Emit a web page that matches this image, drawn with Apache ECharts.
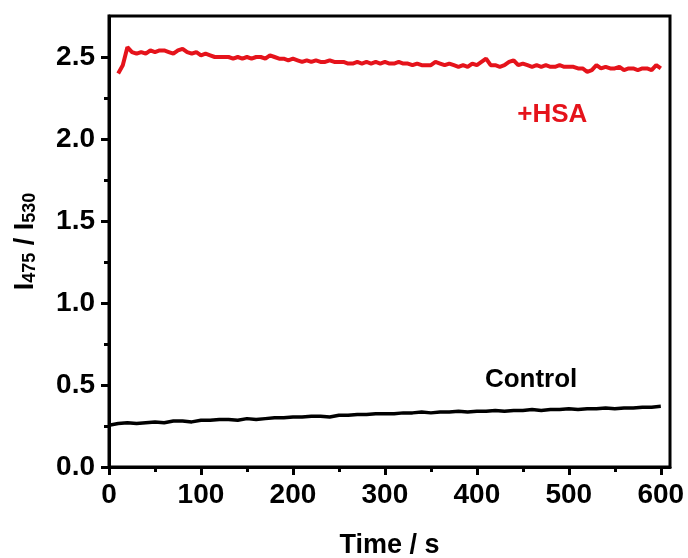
<!DOCTYPE html>
<html>
<head>
<meta charset="utf-8">
<script src="https://cdn.jsdelivr.net/npm/echarts@6/dist/echarts.min.js"></script>
<style>
  html, body { margin: 0; padding: 0; background: #fff; }
  #chart { width: 688px; height: 558px; }
</style>
</head>
<body>
<div id="chart"></div>
<script>
// +HSA trace, sampled every 5 s starting at 10 s
const hsaStart = 10;
const hsaStep = 5;
const hsaValues = [
  2.40, 2.45, 2.56, 2.53, 2.52, 2.53, 2.52, 2.54, 2.53, 2.54,
  2.54, 2.53, 2.52, 2.54, 2.55, 2.53, 2.52, 2.53, 2.51, 2.52,
  2.51, 2.50, 2.50, 2.50, 2.50, 2.49, 2.50, 2.49, 2.50, 2.49,
  2.50, 2.50, 2.49, 2.51, 2.50, 2.49, 2.49, 2.48, 2.49, 2.48,
  2.47, 2.48, 2.47, 2.48, 2.47, 2.47, 2.48, 2.47, 2.47, 2.47,
  2.46, 2.46, 2.47, 2.46, 2.47, 2.46, 2.47, 2.46, 2.47, 2.46,
  2.46, 2.47, 2.46, 2.46, 2.45, 2.46, 2.45, 2.45, 2.45, 2.47,
  2.46, 2.45, 2.46, 2.45, 2.44, 2.45, 2.44, 2.46, 2.45, 2.47,
  2.49, 2.45, 2.45, 2.44, 2.45, 2.47, 2.48, 2.45, 2.46, 2.45,
  2.44, 2.45, 2.44, 2.45, 2.44, 2.44, 2.45, 2.44, 2.44, 2.44,
  2.43, 2.43, 2.41, 2.42, 2.45, 2.43, 2.44, 2.43, 2.43, 2.44,
  2.42, 2.43, 2.43, 2.42, 2.43, 2.43, 2.42, 2.45, 2.43
];

// Control trace, sampled every 10 s starting at 0 s
const ctrlStart = 0;
const ctrlStep = 10;
const ctrlValues = [
  0.255, 0.265, 0.27, 0.265, 0.27, 0.275, 0.27, 0.28, 0.28, 0.275,
  0.285, 0.285, 0.29, 0.29, 0.285, 0.295, 0.29, 0.295, 0.30, 0.30,
  0.305, 0.305, 0.31, 0.31, 0.305, 0.315, 0.315, 0.32, 0.32, 0.325,
  0.325, 0.325, 0.33, 0.33, 0.335, 0.33, 0.335, 0.335, 0.34, 0.335,
  0.34, 0.34, 0.345, 0.34, 0.345, 0.345, 0.35, 0.345, 0.35, 0.35,
  0.355, 0.35, 0.355, 0.355, 0.36, 0.355, 0.36, 0.36, 0.365, 0.365,
  0.37
];

const xTicks = [0, 100, 200, 300, 400, 500, 600];
const yTicks = [0, 0.5, 1.0, 1.5, 2.0, 2.5];

const FONT = "'Liberation Sans', Arial, sans-serif";
const RED = '#e5131b';

const toPairs = (vals, start, step) => vals.map((v, i) => [start + i * step, v]);

const chart = echarts.init(document.getElementById('chart'), null, { renderer: 'canvas' });

const axisCommon = {
  axisLine: { show: true, onZero: false, lineStyle: { color: '#000', width: 3 } },
  axisTick: { show: true, inside: false, length: 8, lineStyle: { color: '#000', width: 3 } },
  minorTick: { show: true, splitNumber: 2, length: 5, lineStyle: { color: '#000', width: 3 } },
  splitLine: { show: false },
  minorSplitLine: { show: false },
};

const option = {
  animation: false,
  backgroundColor: '#fff',
  grid: {
    left: 109, right: 18, top: 16, bottom: 91,
    containLabel: false, outerBoundsMode: 'none',
    show: true, borderColor: '#000', borderWidth: 3, backgroundColor: 'transparent'
  },
  xAxis: {
    type: 'value',
    min: 0, max: 610, interval: 100,
    ...axisCommon,
    axisTick: { ...axisCommon.axisTick, customValues: xTicks },
    axisLabel: {
      customValues: xTicks,
      margin: 14, color: '#000', fontSize: 28, fontWeight: 'bold', fontFamily: FONT
    },
    name: 'Time / s',
    nameLocation: 'middle',
    nameGap: 65,
    nameTextStyle: { color: '#000', fontSize: 27, fontWeight: 'bold', fontFamily: FONT }
  },
  yAxis: {
    type: 'value',
    min: 0, max: 2.75, interval: 0.5,
    ...axisCommon,
    axisTick: { ...axisCommon.axisTick, customValues: yTicks },
    axisLabel: {
      customValues: yTicks,
      margin: 14, color: '#000', fontSize: 28, fontWeight: 'bold', fontFamily: FONT,
      formatter: (v) => v.toFixed(1)
    },
    name: '{i|I}{s|475}{i| / I}{s|530}',
    nameLocation: 'middle',
    nameGap: 70,
    nameRotate: 90,
    nameTextStyle: {
      color: '#000', fontFamily: FONT, fontWeight: 'bold',
      rich: {
        i: { fontSize: 27, fontWeight: 'bold', fontFamily: FONT, color: '#000', verticalAlign: 'bottom', lineHeight: 30 },
        s: { fontSize: 18, fontWeight: 'bold', fontFamily: FONT, color: '#000', verticalAlign: 'bottom', lineHeight: 30, padding: [10, 0, 0, 0] }
      }
    }
  },
  series: [
    {
      name: '+HSA',
      type: 'line',
      data: toPairs(hsaValues, hsaStart, hsaStep),
      showSymbol: false,
      lineStyle: { color: RED, width: 4 },
      itemStyle: { color: RED },
      markPoint: {
        symbol: 'circle', symbolSize: 0,
        label: {
          show: true, formatter: '+HSA', color: RED,
          fontSize: 26, fontWeight: 'bold', fontFamily: FONT, position: 'inside'
        },
        data: [{ coord: [482, 2.15] }]
      }
    },
    {
      name: 'Control',
      type: 'line',
      data: toPairs(ctrlValues, ctrlStart, ctrlStep),
      showSymbol: false,
      lineStyle: { color: '#000', width: 3.5 },
      itemStyle: { color: '#000' },
      markPoint: {
        symbol: 'circle', symbolSize: 0,
        label: {
          show: true, formatter: 'Control', color: '#000',
          fontSize: 26, fontWeight: 'bold', fontFamily: FONT, position: 'inside'
        },
        data: [{ coord: [459, 0.53] }]
      }
    }
  ]
};

chart.setOption(option);
</script>
</body>
</html>
